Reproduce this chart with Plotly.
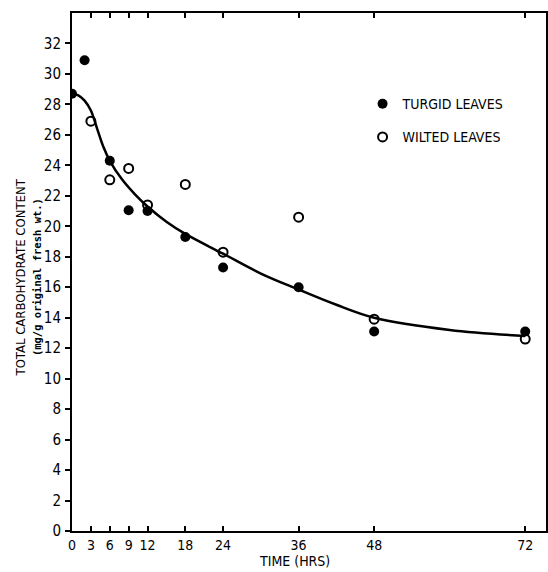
import plotly.graph_objects as go

# Data
turgid_time = [0, 2, 6, 9, 12, 18, 24, 36, 48, 72]
turgid_carb = [28.7, 30.9, 24.3, 21.05, 21.0, 19.3, 17.3, 16.0, 13.1, 13.1]

wilted_time = [3, 6, 9, 12, 18, 24, 36, 48, 72]
wilted_carb = [26.9, 23.05, 23.8, 21.4, 22.75, 18.3, 20.6, 13.9, 12.6]

# fitted curve as drawn in the reference
curve_time = [0, 1, 2, 3, 4, 5, 6, 8, 10, 12, 15, 18, 24, 30, 36, 42, 48, 60, 72]
curve_carb = [28.7, 28.6, 28.25, 27.6, 26.4, 25.2, 24.3, 23.05, 22.1, 21.3, 20.3, 19.5,
              18.2, 16.9, 15.85, 14.85, 14.0, 13.2, 12.8]

x_ticks = [0, 3, 6, 9, 12, 18, 24, 36, 48, 72]
y_ticks = list(range(0, 33, 2))

FONT = "Liberation Sans Narrow, DejaVu Sans Condensed, Arial Narrow, sans-serif"

fig = go.Figure()
fig.add_trace(go.Scatter(x=curve_time, y=curve_carb, mode="lines",
                         line=dict(color="black", width=2.5, shape="spline", smoothing=1.0),
                         showlegend=False, hoverinfo="skip"))
fig.add_trace(go.Scatter(x=turgid_time, y=turgid_carb, mode="markers", name="TURGID LEAVES",
                         legendgroup="turgid",
                         marker=dict(symbol="circle", size=10, color="black")))
fig.add_trace(go.Scatter(x=wilted_time, y=wilted_carb, mode="markers", name="WILTED LEAVES",
                         legendgroup="wilted",
                         marker=dict(symbol="circle-open", size=9, color="black",
                                     line=dict(width=2, color="black"))))

fig.update_layout(
    width=548, height=572,
    margin=dict(l=72, r=0, t=13, b=41),
    paper_bgcolor="white", plot_bgcolor="white",
    font=dict(family=FONT, size=14, color="black"),
    legend=dict(x=0.613, y=0.855, xanchor="left", yanchor="top",
                font=dict(family=FONT, size=14), bgcolor="rgba(0,0,0,0)",
                itemwidth=30, tracegroupgap=12),
    xaxis=dict(range=[0, 75.3], tickvals=x_ticks, ticktext=[str(v) for v in x_ticks],
               ticks="inside", ticklen=5, tickwidth=1.5, tickcolor="black",
               showline=True, linecolor="black", linewidth=2, mirror="ticks",
               showgrid=False, zeroline=False),
    yaxis=dict(range=[0, 34], tickvals=y_ticks, ticks="outside", ticklen=5, tickwidth=1.5,
               tickcolor="black", showline=True, linecolor="black", linewidth=2,
               mirror=True, showgrid=False, zeroline=False, ticklabelstandoff=1,
               tickfont=dict(size=15)),
    yaxis2=dict(range=[0, 34], tickvals=y_ticks, overlaying="y", side="right",
                ticks="inside", ticklen=4, tickwidth=1, tickcolor="black",
                showticklabels=False, showline=False, showgrid=False, zeroline=False),
)

fig.add_annotation(text="TOTAL CARBOHYDRATE CONTENT", xref="paper", yref="paper",
                   x=-0.109, y=0.49, textangle=-90, showarrow=False,
                   font=dict(family=FONT, size=13), xanchor="center", yanchor="middle")
fig.add_annotation(text="<b>(mg/g original fresh wt.)</b>", xref="paper", yref="paper",
                   x=-0.074, y=0.49, textangle=-90, showarrow=False,
                   font=dict(family="DejaVu Sans Mono, monospace", size=10.5),
                   xanchor="center", yanchor="middle")
fig.add_annotation(text="TIME (HRS)", xref="paper", yref="paper",
                   x=0.47, y=-0.058, showarrow=False,
                   font=dict(family=FONT, size=14), xanchor="center", yanchor="middle")

# remove the browser's default 8px body margin so the figure fills the window exactly
fig.write_html("out.html", config={"displayModeBar": False},
               post_script="document.body.style.margin='0';")
